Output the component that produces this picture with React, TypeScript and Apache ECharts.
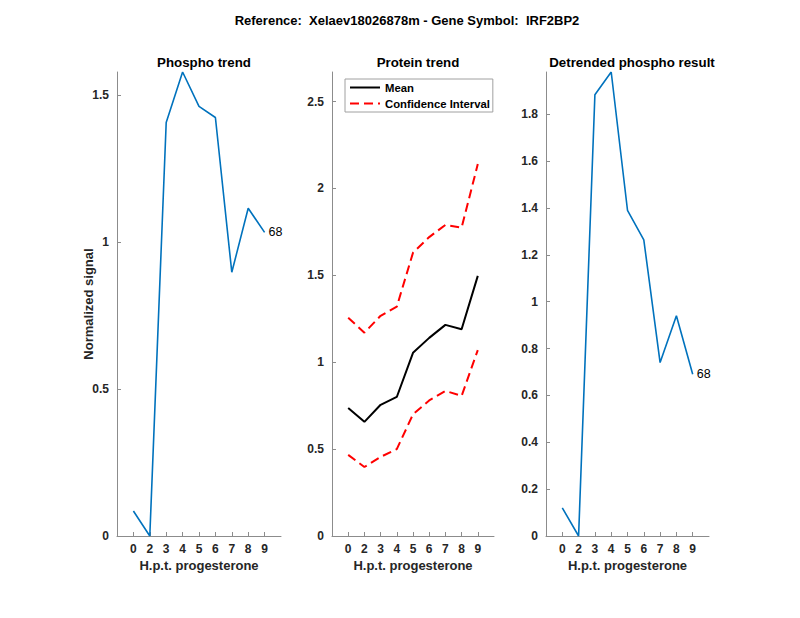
import React, { useEffect, useRef } from "react";
import * as echarts from "echarts";

const xTickLabels = ["0", "2", "3", "4", "5", "6", "7", "8", "9"];
const phospho = [0.085, 0, 1.408, 1.58, 1.463, 1.425, 0.898, 1.116, 1.034];
const proteinMean = [0.737, 0.657, 0.755, 0.8, 1.054, 1.14, 1.215, 1.19, 1.497];
const ciUpper = [1.256, 1.17, 1.267, 1.32, 1.63, 1.72, 1.79, 1.774, 2.14];
const ciLower = [0.467, 0.397, 0.455, 0.5, 0.7, 0.78, 0.835, 0.806, 1.07];
const detrended = [0.12, 0, 1.883, 1.98, 1.39, 1.264, 0.74, 0.94, 0.69];
const endLabel = "68";
const leftTicks = [0, 0.5, 1, 1.5];
const midTicks = [0, 0.5, 1, 1.5, 2, 2.5];
const rightTicks = [0, 0.2, 0.4, 0.6, 0.8, 1, 1.2, 1.4, 1.6, 1.8];

const FONT = "Liberation Sans, Arial, Helvetica, sans-serif";
const AXIS_COLOR = "#8c8c8c";
const LABEL_COLOR = "#262626";

const xPositions = xTickLabels.map((_, i) => i + 1);
const toPts = (arr: number[]) => arr.map((v, i) => [xPositions[i], v]);

function makeX(gridIndex: number) {
  return {
    type: "value",
    gridIndex,
    min: 0,
    max: 10,
    name: "H.p.t. progesterone",
    nameLocation: "middle",
    nameGap: 23,
    nameMoveOverlap: false,
    nameTextStyle: { fontFamily: FONT, fontSize: 13, fontWeight: "bold", color: LABEL_COLOR },
    axisLine: { show: true, lineStyle: { color: AXIS_COLOR, width: 1 } },
    axisTick: {
      show: true,
      inside: true,
      length: 4,
      customValues: xPositions,
      lineStyle: { color: AXIS_COLOR },
    },
    axisLabel: {
      customValues: xPositions,
      formatter: (v: number) => xTickLabels[Math.round(v) - 1] ?? "",
      fontFamily: FONT,
      fontSize: 12,
      fontWeight: "bold",
      color: LABEL_COLOR,
      margin: 7,
    },
    splitLine: { show: false },
  };
}

function makeY(gridIndex: number, max: number, ticks: number[], name?: string) {
  return {
    type: "value",
    gridIndex,
    min: 0,
    max,
    name: name ?? "",
    nameLocation: "middle",
    nameGap: 22,
    nameMoveOverlap: false,
    nameTextStyle: { fontFamily: FONT, fontSize: 13, fontWeight: "bold", color: LABEL_COLOR },
    axisLine: { show: true, lineStyle: { color: AXIS_COLOR, width: 1 } },
    axisTick: {
      show: true,
      inside: true,
      length: 4,
      customValues: ticks,
      lineStyle: { color: AXIS_COLOR },
    },
    axisLabel: {
      customValues: ticks,
      fontFamily: FONT,
      fontSize: 12,
      fontWeight: "bold",
      color: LABEL_COLOR,
      margin: 8,
    },
    splitLine: { show: false },
  };
}

const endLabelStyle = {
  show: true,
  formatter: endLabel,
  distance: 4,
  color: "#000",
  fontFamily: FONT,
  fontSize: 12.5,
};

export default function App() {
  const ref = useRef<HTMLDivElement>(null);
  useEffect(() => {
    document.body.style.margin = "0";
    if (!ref.current) return;
    const chart = echarts.init(ref.current, undefined, { renderer: "svg" });
    const subTitle = (text: string, center: number) => ({
      text,
      left: center,
      top: 51,
      textAlign: "center",
      textStyle: { fontFamily: FONT, fontSize: 13.3, fontWeight: "bold", color: "#000" },
    });
    chart.setOption({
      animation: false,
      backgroundColor: "#fff",
      title: [
        {
          text: "Reference:  Xelaev18026878m - Gene Symbol:  IRF2BP2",
          left: 402,
          top: 9,
          textAlign: "center",
          textStyle: { fontFamily: FONT, fontSize: 13, fontWeight: "bold", color: "#000" },
        },
        subTitle("Phospho trend", 199),
        subTitle("Protein trend", 413),
        subTitle("Detrended phospho result", 627),
      ],
      grid: [
        { left: 117, top: 72, width: 164, height: 464 },
        { left: 332, top: 72, width: 162, height: 464 },
        { left: 546, top: 72, width: 163, height: 464 },
      ],
      xAxis: [makeX(0), makeX(1), makeX(2)],
      yAxis: [
        makeY(0, 1.58, leftTicks, "Normalized signal"),
        makeY(1, 2.67, midTicks),
        makeY(2, 1.98, rightTicks),
      ],
      legend: {
        left: 345,
        top: 79,
        orient: "vertical",
        data: ["Mean", "Confidence Interval"],
        itemWidth: 30,
        itemHeight: 10,
        itemGap: 5,
        padding: [3, 3, 3, 4],
        borderColor: "#a0a0a0",
        borderWidth: 1,
        backgroundColor: "#fff",
        itemStyle: { opacity: 0 },
        textStyle: { fontFamily: FONT, fontSize: 11.3, fontWeight: "bold", color: "#000" },
      },
      series: [
        {
          type: "line",
          xAxisIndex: 0,
          yAxisIndex: 0,
          data: toPts(phospho),
          symbol: "none",
          lineStyle: { color: "#0072BD", width: 1.6 },
          itemStyle: { color: "#0072BD" },
          endLabel: endLabelStyle,
        },
        {
          name: "Mean",
          type: "line",
          xAxisIndex: 1,
          yAxisIndex: 1,
          data: toPts(proteinMean),
          symbol: "none",
          lineStyle: { color: "#000", width: 2 },
          itemStyle: { color: "#000" },
        },
        {
          name: "Confidence Interval",
          type: "line",
          xAxisIndex: 1,
          yAxisIndex: 1,
          data: toPts(ciUpper),
          symbol: "none",
          lineStyle: { color: "#ff0000", width: 2, type: [9, 5] },
          itemStyle: { color: "#ff0000" },
        },
        {
          name: "Confidence Interval",
          type: "line",
          xAxisIndex: 1,
          yAxisIndex: 1,
          data: toPts(ciLower),
          symbol: "none",
          lineStyle: { color: "#ff0000", width: 2, type: [9, 5] },
          itemStyle: { color: "#ff0000" },
        },
        {
          type: "line",
          xAxisIndex: 2,
          yAxisIndex: 2,
          data: toPts(detrended),
          symbol: "none",
          lineStyle: { color: "#0072BD", width: 1.6 },
          itemStyle: { color: "#0072BD" },
          endLabel: endLabelStyle,
        },
      ],
    });
    return () => chart.dispose();
  }, []);
  return <div ref={ref} style={{ width: 800, height: 618 }} />;
}
